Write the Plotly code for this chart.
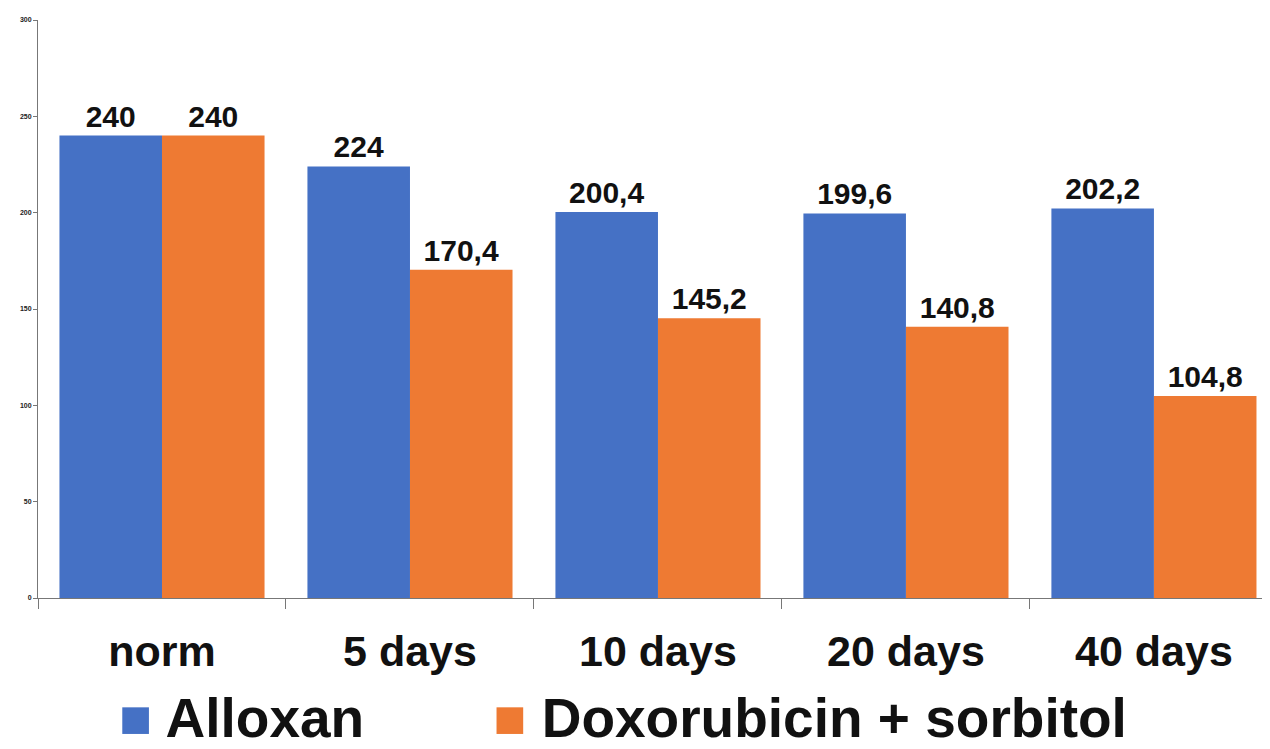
import plotly.graph_objects as go

categories = ["norm", "5 days", "10 days", "20 days", "40 days"]
alloxan = [240, 224, 200.4, 199.6, 202.2]
doxo = [240, 170.4, 145.2, 140.8, 104.8]
series_names = ["Alloxan", "Doxorubicin + sorbitol"]
y_ticks = [0, 50, 100, 150, 200, 250, 300]

blue = "#4571C5"
orange = "#EE7A33"

def fmt(v):
    return f"{v:g}".replace(".", ",")

fig = go.Figure()
legends = ["legend", "legend2"]
for name, vals, col, lg in [(series_names[0], alloxan, blue, legends[0]),
                            (series_names[1], doxo, orange, legends[1])]:
    fig.add_trace(go.Bar(
        x=categories, y=vals, name=name, showlegend=False,
        marker=dict(color=col, line=dict(width=0)),
        text=[fmt(v) for v in vals], textposition="outside",
        textfont=dict(family="Liberation Sans", size=30, color="#111", weight="bold"),
        cliponaxis=False,
    ))
    fig.add_trace(go.Scatter(
        x=[None], y=[None], mode="markers", legend=lg,
        name=f'<span style="color:{col}">■</span> {name}',
        marker=dict(symbol="square", size=0, color="rgba(0,0,0,0)",
                    line=dict(width=0, color="rgba(0,0,0,0)")),
    ))

legend_style = dict(orientation="h", yanchor="middle", y=-0.204, xanchor="left",
                    font=dict(family="Liberation Sans", size=55, color="#111", weight="bold"),
                    itemwidth=30, bgcolor="rgba(0,0,0,0)", borderwidth=0)

fig.update_layout(
    width=1270, height=749,
    margin=dict(l=30, r=8, t=12, b=159, autoexpand=False),
    paper_bgcolor="white", plot_bgcolor="white",
    barmode="group", bargap=0.173, bargroupgap=0,
    showlegend=True,
    legend=dict(legend_style, x=0.0333),
    legend2=dict(legend_style, x=0.337),
    xaxis=dict(range=[-0.5, 4.468], showline=True, linecolor="#777", linewidth=1,
               ticks="outside", tickson="boundaries", ticklen=10, tickcolor="#777",
               tickfont=dict(family="Liberation Sans", size=43, color="#111", weight="bold"),
               ticklabelstandoff=15, showgrid=False, automargin=False),
    yaxis=dict(range=[0, 300], tickvals=y_ticks, showline=True, linecolor="#777", linewidth=1,
               ticks="outside", ticklen=4, tickcolor="#777",
               tickfont=dict(family="Liberation Sans", size=7, color="#222", weight="bold"),
               showgrid=False, zeroline=False, automargin=False),
)

fig.write_html("out.html")
